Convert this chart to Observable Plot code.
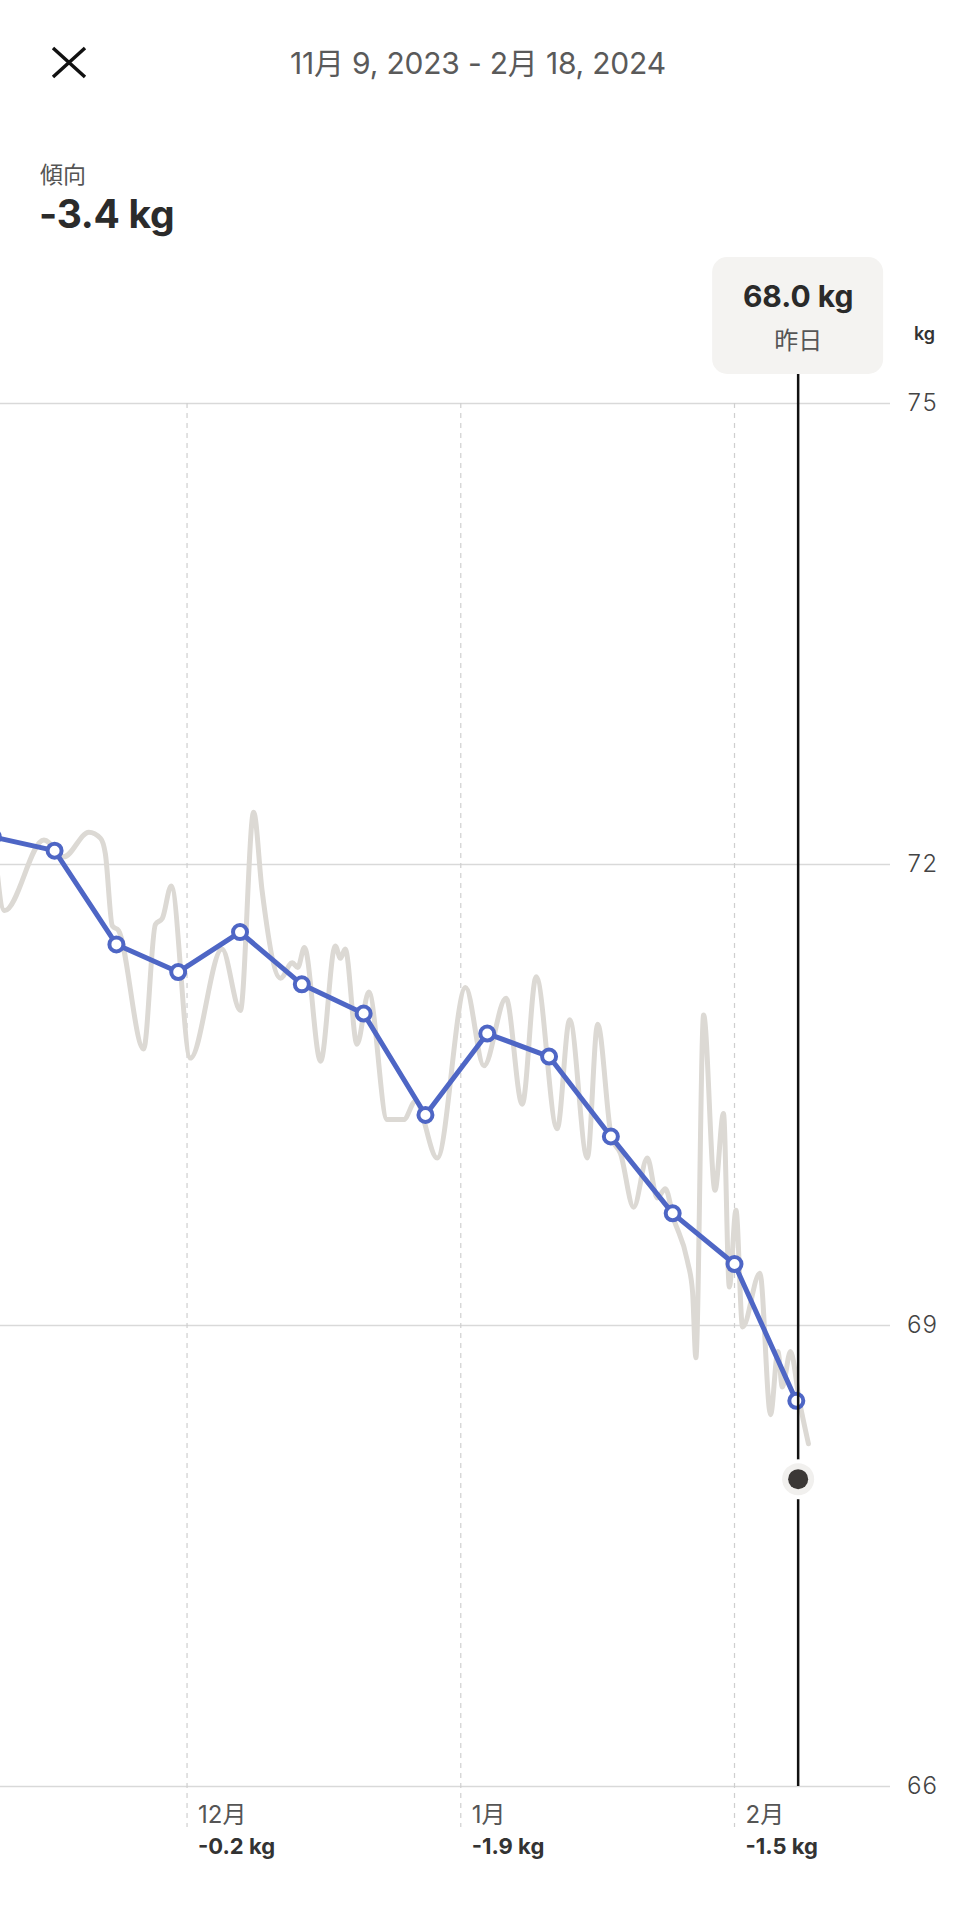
<!DOCTYPE html>
<html>
<head>
<meta charset="utf-8">
<script src="https://cdn.jsdelivr.net/npm/d3@7"></script>
<script src="https://cdn.jsdelivr.net/npm/@observablehq/plot@0.6"></script>
<style>
  html, body { margin: 0; padding: 0; background: #fff; }
  body { width: 956px; height: 1920px; overflow: hidden; font-family: Inter, "Noto Sans CJK JP", sans-serif; }
  #header { position: relative; height: 250px; }
  #close { position: absolute; left: 48px; top: 44px; }
  #range { position: absolute; left: 0; width: 956px; top: 46px; text-align: center; font-size: 30px; line-height: 34px; color: #5a5a5a; font-weight: 400; letter-spacing: -0.2px; }
  #trendLabel { position: absolute; left: 40px; top: 160px; font-size: 23px; line-height: 30px; color: #555; }
  #trendValue { position: absolute; left: 39px; top: 191px; font-size: 39px; line-height: 46px; font-weight: 700; color: #2b2b2b; letter-spacing: -0.3px; }
  #chart svg { display: block; }
</style>
</head>
<body>
<div id="header">
  <svg id="close" width="40" height="38"><path d="M5 4 L37 33 M37 4 L5 33" stroke="#111" stroke-width="3.5" fill="none"/></svg>
  <div id="range">11月 9, 2023 - 2月 18, 2024</div>
  <div id="trendLabel">傾向</div>
  <div id="trendValue">-3.4 kg</div>
</div>
<div id="chart"></div>
<script>
// ---- data ----
const xStart = "2023-11-09T21:00";
const xEnd = "2024-02-18T16:00";
const yTicks = [66, 69, 72, 75];

const trendDates = ["2023-11-09","2023-11-16","2023-11-23","2023-11-30","2023-12-07","2023-12-14","2023-12-21","2023-12-28","2024-01-04","2024-01-11","2024-01-18","2024-01-25","2024-02-01","2024-02-08"];
const trendValues = [72.18, 72.09, 71.48, 71.30, 71.56, 71.22, 71.03, 70.37, 70.90, 70.75, 70.23, 69.73, 69.40, 68.51];

const rawTimes = [
  "2023-11-09T00:00","2023-11-10T08:00","2023-11-14T19:00","2023-11-17T01:00","2023-11-19T21:00",
  "2023-11-21T05:00","2023-11-21T18:00","2023-11-22T13:00","2023-11-23T06:00","2023-11-26T02:00",
  "2023-11-27T10:00","2023-11-28T05:00","2023-11-29T05:00","2023-12-01T09:00","2023-12-04T23:00",
  "2023-12-07T01:00","2023-12-08T13:00","2023-12-09T12:00","2023-12-11T14:00","2023-12-12T22:00",
  "2023-12-13T13:00","2023-12-14T07:00","2023-12-16T03:00","2023-12-17T19:00","2023-12-18T09:00",
  "2023-12-18T22:00","2023-12-20T06:00","2023-12-21T14:00","2023-12-23T16:00","2023-12-25T13:00",
  "2023-12-26T21:00","2023-12-29T08:00","2024-01-01T13:00","2024-01-03T15:00","2024-01-06T03:00",
  "2024-01-07T23:00","2024-01-09T13:00","2024-01-11T22:00","2024-01-13T08:00","2024-01-15T08:00",
  "2024-01-16T12:00","2024-01-18T02:00","2024-01-19T02:00","2024-01-20T14:00","2024-01-22T03:00",
  "2024-01-23T06:00","2024-01-24T04:00","2024-01-25T02:00","2024-01-26T16:00","2024-01-27T06:00",
  "2024-01-27T15:00","2024-01-28T12:00","2024-01-29T19:00","2024-01-30T18:00","2024-01-31T10:00",
  "2024-02-01T04:00","2024-02-01T22:00","2024-02-03T21:00","2024-02-05T02:00","2024-02-05T22:00",
  "2024-02-06T10:00","2024-02-07T08:00","2024-02-08T09:00","2024-02-09T09:00"
];
const rawValues = [
  72.25, 71.70, 72.16, 72.05, 72.21,
  72.17, 72.07, 71.60, 71.57, 70.80,
  71.61, 71.65, 71.86, 70.74, 71.45,
  71.05, 72.34, 71.83, 71.26, 71.36,
  71.33, 71.46, 70.72, 71.47, 71.39,
  71.45, 70.83, 71.17, 70.34, 70.34,
  70.46, 70.09, 71.20, 70.69, 71.13,
  70.44, 71.27, 70.28, 70.99, 70.09,
  70.96, 70.22, 70.12, 69.77, 70.09,
  69.83, 69.89, 69.70, 69.42, 69.22,
  68.79, 71.02, 69.88, 70.38, 69.25,
  69.75, 68.99, 69.34, 68.42, 68.83,
  68.60, 68.83, 68.50, 68.23
];

const cursorTime = "2024-02-08T05:00";
const cursorValue = 68.0;
const cursorLabel = "昨日";

const monthDates = ["2023-12-01", "2024-01-01", "2024-02-01"];
const monthNames = ["12月", "1月", "2月"];
const monthChanges = ["-0.2 kg", "-1.9 kg", "-1.5 kg"];

// ---- build ----
const parseT = d3.utcParse("%Y-%m-%dT%H:%M");
const parseD = d3.utcParse("%Y-%m-%d");
const raw = rawTimes.map((t, i) => ({date: parseT(t), value: rawValues[i]}));
const trend = trendDates.map((t, i) => ({date: parseD(t), value: trendValues[i]}));
const cursor = [{date: parseT(cursorTime), value: cursorValue}];
const months = monthDates.map((t, i) => ({date: parseD(t), name: monthNames[i], change: monthChanges[i]}));

const BLUE = "#4e66c5";

const chart = Plot.plot({
  width: 956,
  height: 1670,
  marginLeft: 0,
  marginRight: 66,
  marginTop: 153,
  marginBottom: 134,
  x: {type: "utc", domain: [parseT(xStart), parseT(xEnd)], axis: null},
  y: {domain: [66, 75], axis: null},
  style: {fontFamily: 'Inter, "Noto Sans CJK JP", sans-serif', background: "#fff", color: "#444", overflow: "hidden"},
  marks: [
    Plot.gridY(yTicks, {stroke: "#d9d9d9", strokeOpacity: 1, strokeWidth: 1.5}),
    Plot.ruleX(months, {x: "date", stroke: "#cfcfcf", strokeWidth: 1.2, strokeDasharray: "5,5", insetBottom: -41}),
    Plot.axisY(yTicks, {anchor: "right", tickSize: 0, tickPadding: 16, tickFormat: d => String(d), fontSize: 24, fontWeight: 300, label: null}),
    Plot.text(["kg"], {frameAnchor: "top-right", textAnchor: "middle", dx: 34, dy: -76, fontSize: 18, fontWeight: 600, fill: "#333"}),
    Plot.line(raw, {x: "date", y: "value", curve: "monotone-x", stroke: "#dcd9d4", strokeWidth: 5, clip: true}),
    Plot.line(trend, {x: "date", y: "value", stroke: BLUE, strokeWidth: 5, clip: true}),
    Plot.dot(trend, {x: "date", y: "value", r: 7, fill: "#fff", stroke: BLUE, strokeWidth: 4, clip: true}),
    Plot.ruleX(cursor, {x: "date", stroke: "#111", strokeWidth: 2.5, insetTop: -29}),
    Plot.dot(cursor, {x: "date", y: "value", r: 20, fill: "#fff"}),
    Plot.dot(cursor, {x: "date", y: "value", r: 16, fill: "#f1f0ee"}),
    Plot.dot(cursor, {x: "date", y: "value", r: 10, fill: "#3b3836"}),
    Plot.text(months, {x: "date", text: "name", frameAnchor: "bottom", textAnchor: "start", dx: 11, dy: 36, fontSize: 24, fill: "#555"}),
    Plot.text(months, {x: "date", text: "change", frameAnchor: "bottom", textAnchor: "start", dx: 11, dy: 67, fontSize: 22, fontWeight: 700, fill: "#333"}),
    Plot.text(cursor, {x: "date", text: d => `${d.value.toFixed(1)} kg`, frameAnchor: "top", dy: -118, fontSize: 30, fontWeight: 700, fill: "#2a2a2a"}),
    Plot.text(cursor, {x: "date", text: () => cursorLabel, frameAnchor: "top", dy: -72, fontSize: 24, fill: "#555"})
  ]
});

// tooltip box positioned with the chart's x scale
const cx = chart.scale("x").apply(cursor[0].date);
d3.select(chart).insert("rect", ":first-child")
  .attr("x", cx - 85.5).attr("y", 7)
  .attr("width", 171).attr("height", 117)
  .attr("rx", 15).attr("fill", "#f4f3f1");

document.getElementById("chart").append(chart);
</script>
</body>
</html>
